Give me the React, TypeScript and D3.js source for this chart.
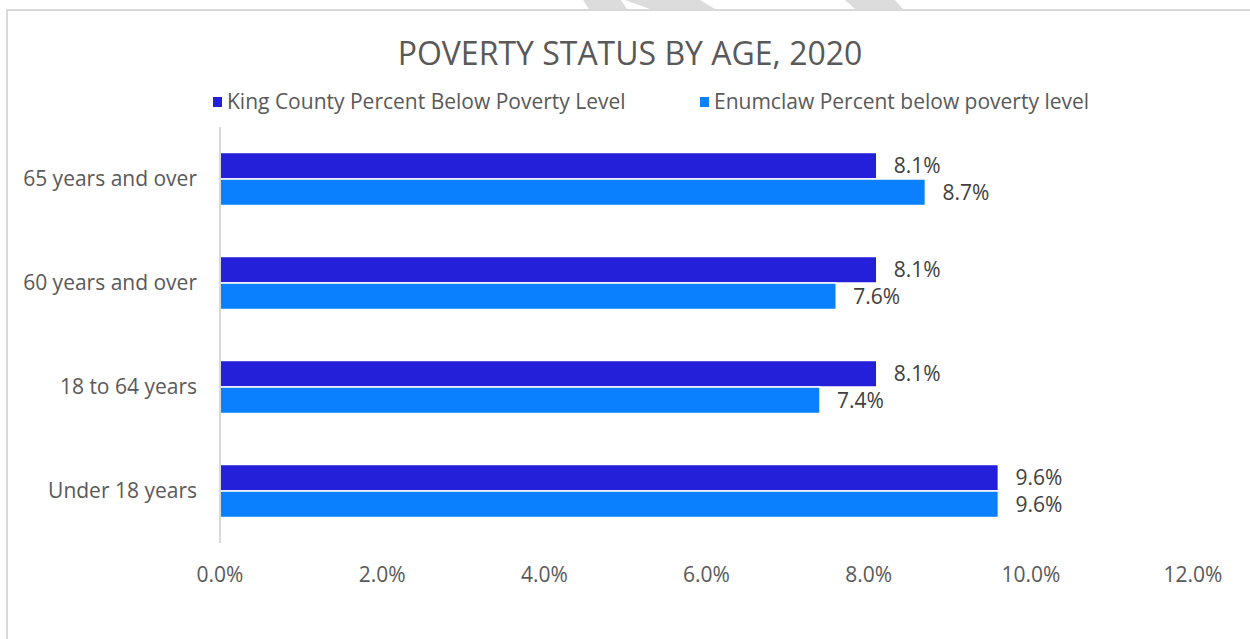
import React, { useEffect, useRef } from 'react';
import * as d3 from 'd3';

const categories = ['65 years and over', '60 years and over', '18 to 64 years', 'Under 18 years'];
const seriesNames = ['King County Percent Below Poverty Level', 'Enumclaw Percent below poverty level'];
const kingCounty = [8.1, 8.1, 8.1, 9.6];
const enumclaw = [8.7, 7.6, 7.4, 9.6];
const xTicks = [0, 2, 4, 6, 8, 10, 12];
const colors = ['#2420DA', '#0B80FF'];

const FONT = '"Open Sans", sans-serif';

const App: React.FC = () => {
  const ref = useRef<SVGSVGElement | null>(null);

  useEffect(() => {
    if (!ref.current) return;
    const svg = d3.select<SVGSVGElement, unknown>(ref.current);
    svg.selectAll('*').remove();

    const width = 1250;
    const height = 639;
    svg.attr('width', width).attr('height', height);

    // faint watermark pieces cut off at the top
    const marks = [
      [[583, 0], [621, 0], [627, 9], [589, 9]],
      [[625, 0], [700, 0], [715, 9], [650, 9]],
      [[845, 0], [895, 0], [903, 9], [855, 9]],
    ];
    svg.selectAll('polygon.wm')
      .data(marks)
      .enter()
      .append('polygon')
      .attr('points', d => d.map(p => p.join(',')).join(' '))
      .attr('fill', '#dcdcdc');

    // chart frame
    svg.append('rect')
      .attr('x', 7).attr('y', 10)
      .attr('width', 1400).attr('height', 800)
      .attr('fill', '#fff')
      .attr('stroke', '#d9d9d9')
      .attr('stroke-width', 2);

    const x = d3.scaleLinear().domain([0, 12]).range([220, 1193]);
    const y = d3.scaleBand<string>().domain(categories).range([127, 543]).paddingInner(0.49).paddingOuter(0.245);
    const sub = d3.scaleBand<number>().domain([0, 1]).range([0, y.bandwidth()]);

    // title
    svg.append('text')
      .attr('x', 630).attr('y', 65)
      .attr('text-anchor', 'middle')
      .attr('fill', '#595959')
      .style('font-family', FONT)
      .style('font-size', '32px')
      .text('POVERTY STATUS BY AGE, 2020');

    // legend
    const legendX = [213, 700];
    seriesNames.forEach((name, i) => {
      svg.append('rect')
        .attr('x', legendX[i]).attr('y', 97)
        .attr('width', 9).attr('height', 10)
        .attr('fill', colors[i]);
      svg.append('text')
        .attr('x', legendX[i] + 14).attr('y', 109)
        .attr('fill', '#595959')
        .style('font-family', FONT)
        .style('font-size', '21px')
        .text(name);
    });

    // bars
    const series = [kingCounty, enumclaw];
    series.forEach((vals, si) => {
      const g = svg.append('g');
      g.selectAll('rect')
        .data(vals)
        .enter()
        .append('rect')
        .attr('x', x(0))
        .attr('y', (_, i) => (y(categories[i]) as number) + (sub(si) as number))
        .attr('width', d => x(d) - x(0))
        .attr('height', sub.bandwidth())
        .attr('fill', colors[si])
        .attr('stroke', '#fff')
        .attr('stroke-width', 1.5);
      g.selectAll('text')
        .data(vals)
        .enter()
        .append('text')
        .attr('x', d => x(d) + 17)
        .attr('y', (_, i) => (y(categories[i]) as number) + (sub(si) as number) + sub.bandwidth() / 2)
        .attr('dy', '0.35em')
        .attr('fill', '#404040')
        .style('font-family', FONT)
        .style('font-size', '21px')
        .text(d => d.toFixed(1) + '%');
    });

    // y axis line
    svg.append('line')
      .attr('x1', x(0)).attr('x2', x(0))
      .attr('y1', 127).attr('y2', 543)
      .attr('stroke', '#d9d9d9')
      .attr('stroke-width', 2);

    // category labels
    svg.append('g')
      .selectAll('text')
      .data(categories)
      .enter()
      .append('text')
      .attr('x', 197)
      .attr('y', d => (y(d) as number) + y.bandwidth() / 2)
      .attr('dy', '0.35em')
      .attr('text-anchor', 'end')
      .attr('fill', '#595959')
      .style('font-family', FONT)
      .style('font-size', '21px')
      .text(d => d);

    // x tick labels
    svg.append('g')
      .selectAll('text')
      .data(xTicks)
      .enter()
      .append('text')
      .attr('x', d => x(d))
      .attr('y', 582)
      .attr('text-anchor', 'middle')
      .attr('fill', '#595959')
      .style('font-family', FONT)
      .style('font-size', '21px')
      .text(d => d.toFixed(1) + '%');
  }, []);

  return (
    <div style={{ position: 'absolute', left: 0, top: 0 }}>
      <svg ref={ref} style={{ display: 'block' }} />
    </div>
  );
};

export default App;
